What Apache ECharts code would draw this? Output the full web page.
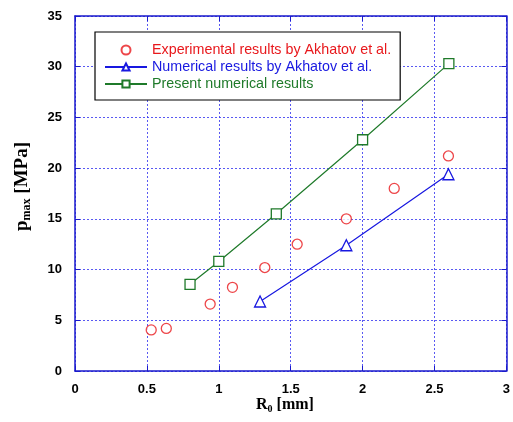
<!DOCTYPE html>
<html>
<head>
<meta charset="utf-8">
<script src="https://cdn.jsdelivr.net/npm/echarts@6/dist/echarts.min.js"></script>
<style>
  html, body { margin: 0; padding: 0; background: #fff; }
  #chart { width: 513px; height: 422px; }
</style>
</head>
<body>
<div id="chart"></div>
<script>
// Bubble radius R0 [mm] vs. peak pressure p_max [MPa]
const seriesNames = [
  'Experimental results by Akhatov et al.',
  'Numerical results by Akhatov et al.',
  'Present numerical results'
];
const expR0   = [0.53, 0.635, 0.94, 1.095, 1.32, 1.545, 1.887, 2.22, 2.597];
const expPmax = [4.05, 4.2, 6.6, 8.25, 10.2, 12.5, 15.0, 18.0, 21.2];
const akhR0   = [1.287, 1.887, 2.597];
const akhPmax = [6.85, 12.4, 19.4];
const presR0   = [0.8, 1.0, 1.4, 2.0, 2.6];
const presPmax = [8.55, 10.8, 15.5, 22.8, 30.3];
const xTicks = [0, 0.5, 1, 1.5, 2, 2.5, 3];
const yTicks = [0, 5, 10, 15, 20, 25, 30, 35];

const pairs = (xs, ys) => xs.map((x, i) => [x, ys[i]]);

const axisBlue = '#1a1acc';
const gridBlue = 'rgba(60,60,240,0.85)';
const tickFont = { fontFamily: 'Liberation Sans, Arial, sans-serif', fontWeight: 'bold', fontSize: 13, color: '#000' };
const serif = 'Liberation Serif, Times New Roman, serif';

const chart = echarts.init(document.getElementById('chart'), null, { renderer: 'canvas' });

const baseX = {
  type: 'value', min: xTicks[0], max: xTicks[xTicks.length - 1], interval: 0.5,
  axisLine: { show: true, onZero: false, lineStyle: { color: axisBlue, width: 1.5 } },
  axisTick: { show: true, inside: true, length: 5, lineStyle: { color: axisBlue, width: 1 } }
};
const baseY = {
  type: 'value', min: yTicks[0], max: yTicks[yTicks.length - 1], interval: 5,
  axisLine: { show: true, onZero: false, lineStyle: { color: axisBlue, width: 1.5 } },
  axisTick: { show: true, inside: true, length: 5, lineStyle: { color: axisBlue, width: 1 } }
};

chart.setOption({
  animation: false,
  backgroundColor: '#fff',
  grid: { left: 75, right: 5, top: 16, bottom: 51, containLabel: false },
  xAxis: [
    Object.assign({}, baseX, {
      position: 'bottom',
      axisLabel: Object.assign({ margin: 12, formatter: v => String(v) }, tickFont),
      splitLine: { show: true, lineStyle: { color: gridBlue, type: [2, 2], width: 1 } }
    }),
    Object.assign({}, baseX, {
      position: 'top', axisLabel: { show: false }, splitLine: { show: false }
    })
  ],
  yAxis: [
    Object.assign({}, baseY, {
      position: 'left',
      axisLabel: Object.assign({ margin: 13 }, tickFont),
      splitLine: { show: true, lineStyle: { color: gridBlue, type: [2, 2], width: 1 } }
    }),
    Object.assign({}, baseY, {
      position: 'right', axisLabel: { show: false }, splitLine: { show: false }
    })
  ],
  legend: {
    orient: 'vertical',
    left: 95, top: 32,
    backgroundColor: '#fff',
    borderColor: '#000', borderWidth: 1.2,
    padding: [11, 9, 9, 9],
    itemGap: 3,
    itemWidth: 42, itemHeight: 9,
    textStyle: { fontFamily: 'Liberation Sans, Arial, sans-serif', fontSize: 14.3, lineHeight: 13 },
    data: [
      { name: seriesNames[0], textStyle: { color: '#e8181c' } },
      { name: seriesNames[1], textStyle: { color: '#1818e0' } },
      { name: seriesNames[2], textStyle: { color: '#1f7a2a' } }
    ]
  },
  graphic: [
    {
      type: 'text', left: 13, top: 142, rotation: Math.PI / 2,
      style: {
        text: '{a|p}{s|max}{a| [MPa]}',
        rich: {
          a: { fontFamily: serif, fontWeight: 'bold', fontSize: 19, fill: '#000' },
          s: { fontFamily: serif, fontWeight: 'bold', fontSize: 12, fill: '#000', verticalAlign: 'bottom', padding: [9, 0, 0, 0] }
        }
      }
    },
    {
      type: 'text', left: 256, top: 397,
      style: {
        text: '{a|R}{s|0}{a| [mm]}',
        rich: {
          a: { fontFamily: serif, fontWeight: 'bold', fontSize: 16, fill: '#000' },
          s: { fontFamily: serif, fontWeight: 'bold', fontSize: 10, fill: '#000', verticalAlign: 'bottom', padding: [8, 0, 0, 0] }
        }
      }
    }
  ],
  series: [
    {
      name: seriesNames[0], type: 'scatter',
      data: pairs(expR0, expPmax),
      symbol: 'circle', symbolSize: 10,
      itemStyle: { color: '#fff', borderColor: '#e8181c', borderWidth: 1.3 },
      z: 5
    },
    {
      name: seriesNames[1], type: 'line',
      data: pairs(akhR0, akhPmax),
      symbol: 'triangle', symbolSize: 11, showAllSymbol: true,
      lineStyle: { color: '#1818e0', width: 1.2 },
      itemStyle: { color: '#fff', borderColor: '#1818e0', borderWidth: 1.3 },
      z: 4
    },
    {
      name: seriesNames[2], type: 'line',
      data: pairs(presR0, presPmax),
      symbol: 'rect', symbolSize: 10, showAllSymbol: true,
      lineStyle: { color: '#1f7a2a', width: 1.2 },
      itemStyle: { color: '#fff', borderColor: '#1f7a2a', borderWidth: 1.3 },
      z: 4
    }
  ]
});
</script>
</body>
</html>
